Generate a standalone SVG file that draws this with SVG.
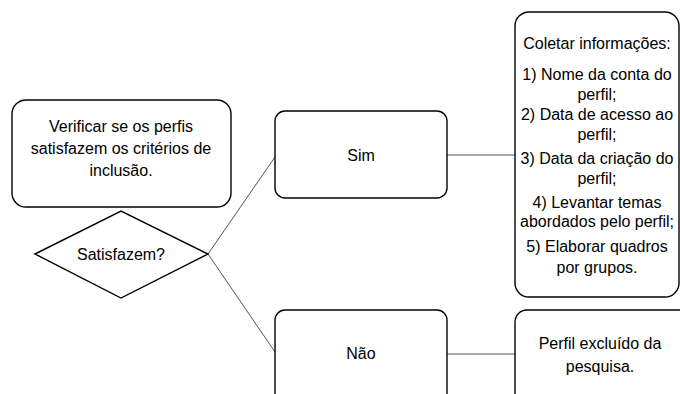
<svg xmlns="http://www.w3.org/2000/svg" width="680" height="394" viewBox="0 0 680 394">
<style>
.box{fill:#fff;stroke:#000;stroke-width:1.4}
.t{font-family:"Liberation Sans",Arial,sans-serif;font-size:16px;fill:#000;text-anchor:middle}
.c{stroke:#555;stroke-width:1;fill:none}
</style>
<rect width="680" height="394" fill="#fff"/>
<g id="connectors">
<line class="c" x1="208" y1="254" x2="275" y2="157"/>
<line class="c" x1="208" y1="254" x2="275" y2="352"/>
<line class="c" x1="447" y1="155" x2="515" y2="155"/>
<line class="c" x1="447" y1="354" x2="515" y2="354"/>
</g>
<g id="verificar">
<rect class="box" x="12" y="100" width="219" height="107" rx="14"/>
<text class="t" x="121" y="132">Verificar se os perfis</text>
<text class="t" x="121" y="154">satisfazem os critérios de</text>
<text class="t" x="121" y="176">inclusão.</text>
</g>
<g id="satisfazem">
<polygon class="box" points="35,254 121,211 208,254 121,298"/>
<text class="t" x="121" y="260">Satisfazem?</text>
</g>
<g id="sim">
<rect class="box" x="275" y="111" width="172" height="87" rx="10"/>
<text class="t" x="361" y="161">Sim</text>
</g>
<g id="nao">
<rect class="box" x="275" y="310" width="172" height="100" rx="10"/>
<text class="t" x="361" y="359">Não</text>
</g>
<g id="coletar">
<rect class="box" x="515" y="12" width="164" height="285" rx="14"/>
<text class="t" x="597" y="49">Coletar informações:</text>
<text class="t" x="597" y="80">1) Nome da conta do</text>
<text class="t" x="597" y="100">perfil;</text>
<text class="t" x="597" y="120">2) Data de acesso ao</text>
<text class="t" x="597" y="140">perfil;</text>
<text class="t" x="597" y="164">3) Data da criação do</text>
<text class="t" x="597" y="184">perfil;</text>
<text class="t" x="597" y="208">4) Levantar temas</text>
<text class="t" x="597" y="227">abordados pelo perfil;</text>
<text class="t" x="597" y="252">5) Elaborar quadros</text>
<text class="t" x="597" y="273">por grupos.</text>
</g>
<g id="excluido">
<rect class="box" x="515" y="310" width="180" height="100" rx="12"/>
<text class="t" x="600" y="349">Perfil excluído da</text>
<text class="t" x="600" y="372">pesquisa.</text>
</g>
</svg>
